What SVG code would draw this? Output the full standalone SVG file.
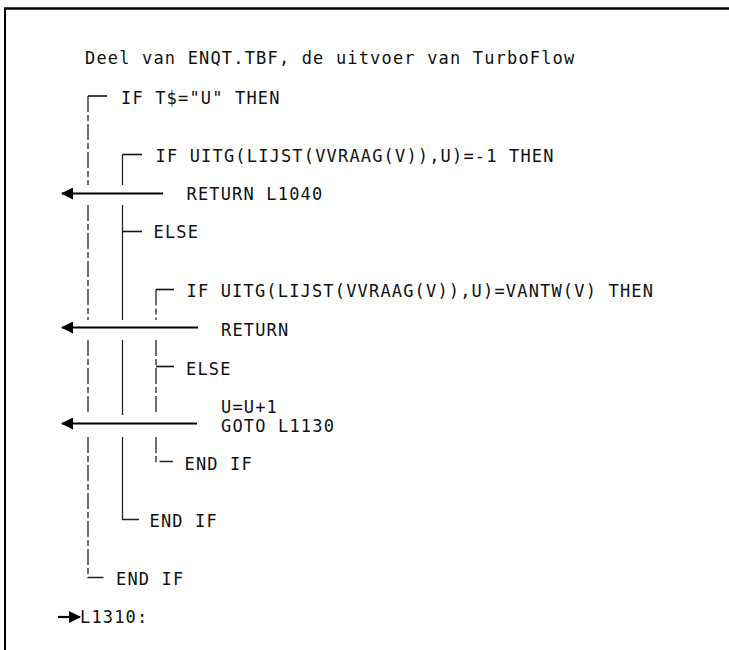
<svg xmlns="http://www.w3.org/2000/svg" width="729" height="650" viewBox="0 0 729 650">
<style>
text{font-family:"DejaVu Sans Mono","Liberation Mono",monospace;font-size:17px;letter-spacing:1.17px;fill:#111}
.v{stroke:#222;stroke-width:1.3;fill:none}
.d{stroke-dasharray:16 3 6 3}
.t{stroke:#111;stroke-width:1.6;fill:none}
.a{stroke:#000;stroke-width:2.2;fill:none}
</style>
<defs>
<marker id="ah" viewBox="0 0 12 12" refX="11" refY="6" markerWidth="12" markerHeight="12" markerUnits="userSpaceOnUse" orient="auto">
<path d="M0,0 L12,6 L0,12 Z" fill="#000"/>
</marker>
</defs>
<rect width="729" height="650" fill="#fff"/>
<g id="frame">
<line x1="4" y1="8.5" x2="729" y2="8.5" stroke="#000" stroke-width="2.6"/>
<line x1="5" y1="8" x2="5" y2="650" stroke="#000" stroke-width="2"/>
</g>
<g id="connectors">
<!-- outer IF -->
<path class="v d" d="M88,96 V185 M88,205 V320 M88,340 V415 M88,437 V577.5 H104"/>
<line class="t" x1="88" y1="96" x2="107" y2="96"/>
<!-- middle IF -->
<path class="v" d="M122.5,154.5 V185 M122.5,205 V320 M122.5,340 V415 M122.5,437 V519.5 H139"/>
<line class="t" x1="122.5" y1="154.5" x2="142" y2="154.5"/>
<line class="t" x1="122.5" y1="231.5" x2="142" y2="231.5"/>
<!-- inner IF -->
<path class="v d" d="M156,289.5 V320 M156,340 V415 M156,437 V461.5 H173"/>
<line class="t" x1="156" y1="289.5" x2="174" y2="289.5"/>
<line class="t" x1="156" y1="366.5" x2="174" y2="366.5"/>
<!-- exit arrows -->
<line class="a" x1="163" y1="193.5" x2="62" y2="193.5" marker-end="url(#ah)"/>
<line class="a" x1="198" y1="327.5" x2="62" y2="327.5" marker-end="url(#ah)"/>
<line class="a" x1="197" y1="423.5" x2="62" y2="423.5" marker-end="url(#ah)"/>
<line class="a" x1="58" y1="617" x2="80" y2="617" marker-end="url(#ah)"/>
</g>
<g id="title"><text x="85" y="64">Deel van ENQT.TBF, de uitvoer van TurboFlow</text></g>
<g id="if1"><text x="121" y="103.5">IF T$="U" THEN</text></g>
<g id="if2"><text x="155.5" y="161.5">IF UITG(LIJST(VVRAAG(V)),U)=-1 THEN</text></g>
<g id="ret1"><text x="186.5" y="200">RETURN L1040</text></g>
<g id="else1"><text x="153.5" y="238">ELSE</text></g>
<g id="if3"><text x="186.5" y="296.5">IF UITG(LIJST(VVRAAG(V)),U)=VANTW(V) THEN</text></g>
<g id="ret2"><text x="221" y="336">RETURN</text></g>
<g id="else2"><text x="186" y="375">ELSE</text></g>
<g id="goto"><text x="221" y="413">U=U+1</text><text x="221" y="432">GOTO L1130</text></g>
<g id="endif3"><text x="184.5" y="470">END IF</text></g>
<g id="endif2"><text x="149.5" y="527">END IF</text></g>
<g id="endif1"><text x="116" y="585">END IF</text></g>
<g id="label"><text x="80" y="623">L1310:</text></g>
</svg>
